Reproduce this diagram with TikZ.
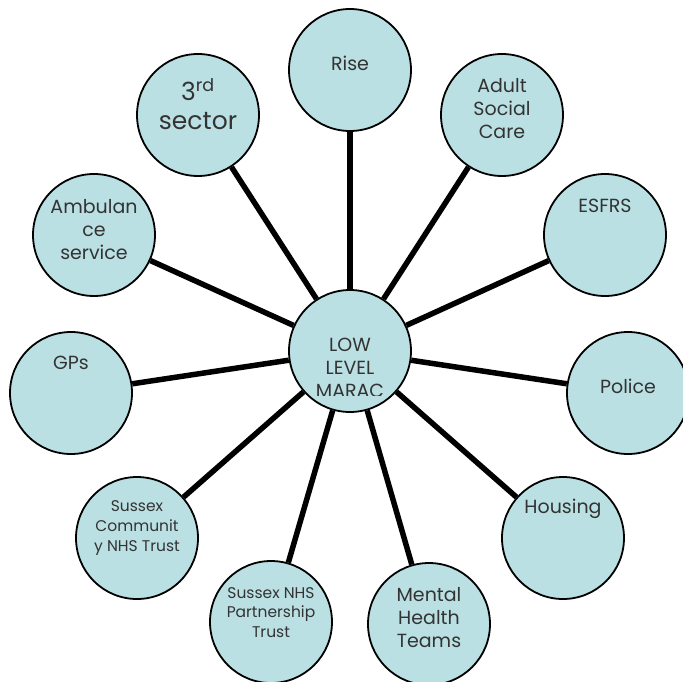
\documentclass[tikz,border=0pt]{standalone}
\usepackage{fontspec}
\setmainfont{Poppins}
\usepackage{xcolor}
\usetikzlibrary{positioning}

\definecolor{azulagua}{RGB}{186,224,227}

\begin{document}
\begin{tikzpicture}[
  x=1pt, y=-1pt,
  agencia/.style={circle, draw, line width=1.8pt, fill=azulagua,
                  minimum size=122pt, inner sep=0pt},
  texto/.style={align=center, inner sep=0pt, text=black!80,
                font=\fontsize{19}{23}\selectfont},
  textochico/.style={texto, font=\fontsize{15.5}{19.8}\selectfont},
  enlace/.style={line width=5.5pt}
]
\useasboundingbox (0,0) rectangle (683,681);

% circulos
\node[agencia] (marac) at (350,351) {};
\node[agencia] (rise) at (350,70) {};
\node[agencia] (adultos) at (502,115) {};
\node[agencia] (esfrs) at (605,235) {};
\node[agencia] (policia) at (628,393) {};
\node[agencia] (vivienda) at (563,538) {};
\node[agencia] (salud) at (429,624) {};
\node[agencia] (partnership) at (271,622) {};
\node[agencia] (comunidad) at (137,538) {};
\node[agencia] (gps) at (71,393) {};
\node[agencia] (ambulancia) at (94,235) {};
\node[agencia] (sector) at (198,115) {};

% enlaces
\foreach \destino in {rise,adultos,esfrs,policia,vivienda,salud,
                      partnership,comunidad,gps,ambulancia,sector}
  \draw[enlace] (marac) -- (\destino);

% textos
\begin{scope}
  \clip (280,300) rectangle (420,395.3);
  \node[texto] (tmarac) at (350,368) {LOW\\ LEVEL\\ MARAC};
\end{scope}
\node[texto] (trise) at (350,63.6) {Rise};
\node[texto] (tadultos) at (502,108.6) {Adult\\ Social\\ Care};
\node[texto] (tesfrs) at (605,205.6) {ESFRS};
\node[texto] (tpolicia) at (628,386.3) {Police};
\node[texto] (tvivienda) at (563,509) {Housing};
\node[texto] (tsalud) at (429,617.4) {Mental\\ Health\\ Teams};
\node[textochico] (tpartnership) at (271,612.5) {Sussex NHS\\ Partnership\\ Trust};
\node[textochico] (tcomunidad) at (137,528) {Sussex\\ Communit\\ y NHS Trust};
\node[texto] (tgps) at (71,363) {GPs};
\node[texto] (tambulancia) at (94,229.3) {Ambulan\\ ce\\ service};
\node[texto, font=\fontsize{25}{29}\selectfont] (tsector) at (198,104)
  {3\textsuperscript{rd}\\ sector};
\end{tikzpicture}
\end{document}
